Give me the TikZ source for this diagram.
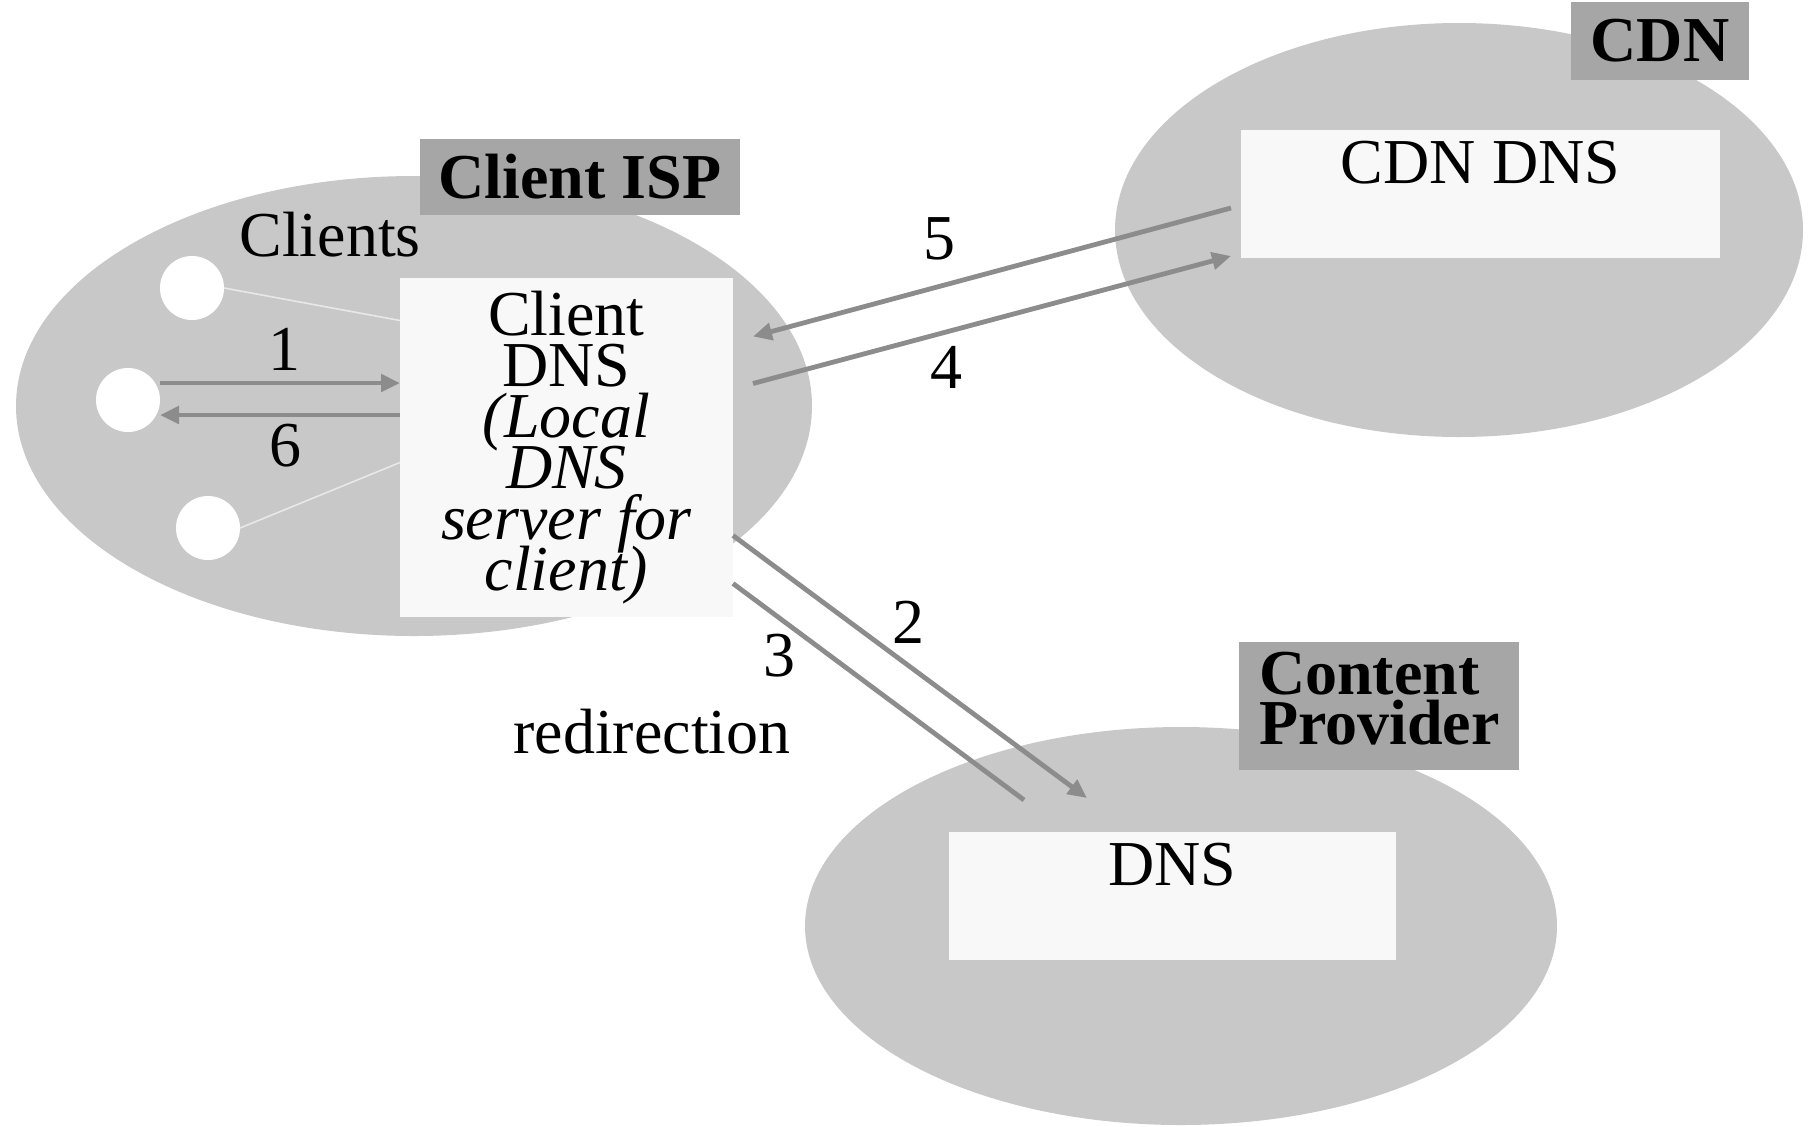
\documentclass[tikz,border=0pt]{standalone}
\usepackage{fontspec}
\setmainfont{Liberation Serif}
\usetikzlibrary{shapes.geometric,arrows.meta,calc}
\definecolor{cloudgray}{RGB}{200,200,200}
\definecolor{taggray}{RGB}{166,166,166}
\definecolor{boxwhite}{RGB}{248,248,248}
\definecolor{arrowgray}{RGB}{140,140,140}
\definecolor{linkwhite}{RGB}{232,232,232}
\tikzset{
  cloud/.style={ellipse, fill=cloudgray, inner sep=0pt, outer sep=0pt},
  tag/.style={fill=taggray, inner sep=0pt, outer sep=0pt,
    font={\fontsize{32}{25}\selectfont\bfseries\lineskiplimit=-100pt}},
  server/.style={fill=boxwhite, inner sep=0pt, outer sep=0pt},
  host/.style={circle, fill=white, minimum size=32pt, inner sep=0pt, outer sep=0pt},
  txt/.style={inner sep=0pt, font=\fontsize{32}{38}\selectfont},
  msg/.style={draw=arrowgray, line width=2.4pt, -{Triangle[length=9.5pt,width=8.5pt]}},
  plainline/.style={draw=arrowgray, line width=2.4pt},
  link/.style={draw=linkwhite, line width=0.8pt},
}
\begin{document}
\begin{tikzpicture}[x=0.5pt,y=-0.5pt]
\useasboundingbox (0,0) rectangle (1814,1126);

% network clouds
\node[cloud, minimum width=398pt, minimum height=230pt] (isp) at (414,406) {};
\node[cloud, minimum width=344pt, minimum height=207pt] (cdn) at (1459,230) {};
\node[cloud, minimum width=376pt, minimum height=199pt] (cp) at (1181,926) {};

% cloud titles
\node[tag, minimum width=160pt, minimum height=38pt] (isptag) at (580,177) {Client ISP};
\node[tag, minimum width=89pt, minimum height=39pt] (cdntag) at (1660,41) {CDN};
\node[tag, minimum width=140pt, minimum height=64pt, text width=120pt, inner xsep=10pt,
  align=left] (cptag) at (1379,706) {Content\\Provider\strut};

% servers
\node[server, minimum width=166.5pt, minimum height=169.5pt, align=center,
  font={\fontsize{32}{25.5}\selectfont\lineskiplimit=-100pt}] (cdns) at (566.5,447.5)
  {Client\\DNS\\\textit{(Local}\\\textit{DNS}\\\textit{server for}\\\textit{client)}};
\node[server, minimum width=239.5pt, minimum height=64pt] (cdndns) at (1480.5,194) {};
\node[server, minimum width=223.5pt, minimum height=64pt] (dns) at (1172.5,896) {};
\node[txt, anchor=base] (cdndnstxt) at ($(cdndns.north)+(0,53)$) {CDN DNS};
\node[txt, anchor=base] (dnstxt) at ($(dns.north)+(0,53)$) {DNS};

% client hosts
\node[host] (c1) at (192,288) {};
\node[host] (c2) at (128,400) {};
\node[host] (c3) at (208,528) {};
\node[txt, anchor=base] (clients) at (330,256) {Clients};
\draw[link] (c1.east) -- ($(cdns.west)+(0,-127)$);
\draw[link] (c3.east) -- ($(cdns.west)+(0,15)$);

% messages
\draw[msg] ($(c2.east)+(0,-17)$) -- ($(c2.east -| cdns.west)+(0,-17)$);
\draw[msg] ($(c2.east -| cdns.west)+(0,15)$) -- ($(c2.east)+(0,15)$);
\draw[msg] ($(cdndns.west)+(-10,14)$) -- ($(cdns.east)+(20,-111)$);
\draw[msg] ($(cdns.east)+(20,-64)$) -- ($(cdndns.west)+(-10,62)$);
\draw[msg] ($(cdns.east)+(0,88)$) -- ($(dns.north west)+(138,-34)$);
\draw[plainline] ($(cdns.east)+(0,136)$) -- ($(dns.north west)+(75,-32)$);

% message labels
\node[txt, anchor=base] (l1) at (284,370) {1};
\node[txt, anchor=base] (l6) at (285,466) {6};
\node[txt, anchor=base] (l5) at (939,259) {5};
\node[txt, anchor=base] (l4) at (946,388) {4};
\node[txt, anchor=base] (l2) at (908,643) {2};
\node[txt, anchor=base] (l3) at (779,676) {3};
\node[txt, anchor=base] (redir) at (652,753) {redirection};
\end{tikzpicture}
\end{document}
